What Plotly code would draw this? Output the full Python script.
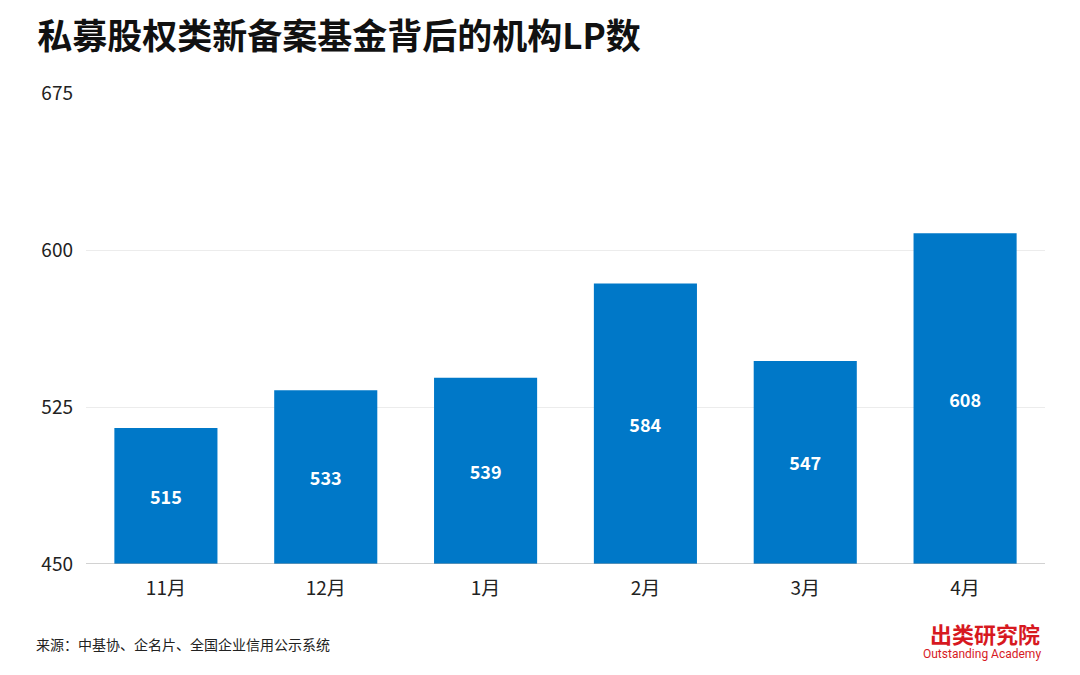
import plotly.graph_objects as go

categories = ["11月", "12月", "1月", "2月", "3月", "4月"]
values = [515, 533, 539, 584, 547, 608]
y_ticks = [450, 525, 600, 675]
y_base = 450

FONT = "Noto Sans CJK SC"

fig = go.Figure()
fig.add_trace(go.Bar(
    x=categories,
    y=[v - y_base for v in values],
    base=[y_base] * len(values),
    marker=dict(color="#0078C8", line=dict(width=0)),
    text=[str(v) for v in values],
    textposition="inside",
    insidetextanchor="middle",
    textangle=0,
    textfont=dict(color="white", size=18, family=FONT, weight="bold"),
    width=0.645,
    hovertext=[str(v) for v in values],
))

fig.update_layout(
    width=1080, height=675,
    paper_bgcolor="white", plot_bgcolor="white",
    margin=dict(l=78, r=43, t=85, b=119),
    showlegend=False,
    uniformtext=dict(mode=False),
    font=dict(family=FONT, color="#222222"),
    title=dict(text="<b>私募股权类新备案基金背后的机构LP数</b>",
               x=0.027, xanchor="left", y=0.957, yanchor="middle",
               font=dict(size=35, color="#111111", family=FONT)),
    xaxis=dict(showgrid=False, showline=False, ticks="",
               tickfont=dict(size=19, color="#222222", family=FONT),
               ticklabelstandoff=11),
    yaxis=dict(range=[450, 675], tickvals=y_ticks,
               showgrid=True, gridcolor="#ECECEC", gridwidth=1,
               zeroline=False, showline=False, ticks="",
               tickfont=dict(size=19, color="#222222", family=FONT),
               ticklabelstandoff=12),
)

# baseline axis line
fig.add_shape(type="line", xref="paper", yref="y", x0=0, x1=1, y0=450, y1=450,
              line=dict(color="#A6A6A6", width=1.2), layer="above")

fig.add_annotation(text="来源：中基协、企名片、全国企业信用公示系统",
                   xref="paper", yref="paper", x=-0.0545, y=-0.17,
                   xanchor="left", yanchor="middle", showarrow=False,
                   font=dict(size=14, color="#222222", family=FONT))
fig.add_annotation(text="出类研究院", xref="paper", yref="paper",
                   x=0.9965, y=-0.146, xanchor="right", yanchor="middle",
                   showarrow=False,
                   font=dict(size=22, color="#D7191F", family=FONT, weight="bold"))
fig.add_annotation(text="Outstanding Academy", xref="paper", yref="paper",
                   x=0.998, y=-0.192, xanchor="right", yanchor="middle",
                   showarrow=False,
                   font=dict(size=12, color="#D7191F", family="Liberation Sans Narrow, Roboto"))

fig.write_html("out.html")
